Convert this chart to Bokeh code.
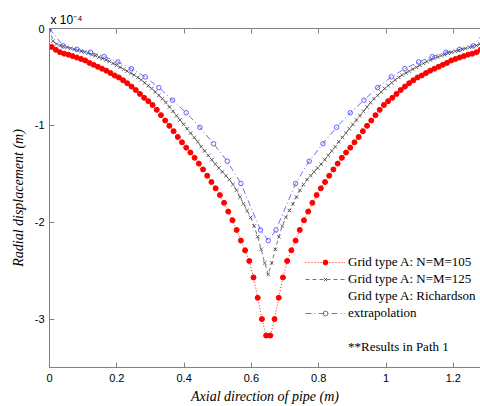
import numpy as np
from bokeh.plotting import figure
from bokeh.models import Range1d, LinearAxis, FixedTicker, Legend, LegendItem, Title
from bokeh.embed import file_html
from bokeh.resources import INLINE

# Radial displacement in units of 1e-4 m
# Grid type A: N=M=105 (cell-centred grid, 104 points)
red_y = [-0.19, -0.22, -0.245, -0.26, -0.27, -0.285, -0.30, -0.315, -0.33, -0.355,
         -0.375, -0.395, -0.415, -0.435, -0.46, -0.485, -0.505, -0.535, -0.565, -0.60,
         -0.635, -0.675, -0.715, -0.75, -0.79, -0.84, -0.895, -0.95, -1.005, -1.06,
         -1.12, -1.175, -1.23, -1.28, -1.335, -1.395, -1.455, -1.52, -1.585, -1.65,
         -1.72, -1.80, -1.89, -1.98, -2.08, -2.19, -2.29, -2.40, -2.57, -2.78,
         -3.00, -3.17,
         -3.17, -3.00,
         -2.78, -2.57, -2.40, -2.29, -2.19, -2.08, -1.98, -1.89, -1.80, -1.72,
         -1.65, -1.585, -1.52, -1.455, -1.395, -1.335, -1.28, -1.23, -1.175, -1.12,
         -1.06, -1.005, -0.95, -0.895, -0.84, -0.79, -0.75, -0.715, -0.675, -0.635,
         -0.60, -0.565, -0.535, -0.505, -0.485, -0.46, -0.435, -0.415, -0.395, -0.375,
         -0.355, -0.33, -0.315, -0.30, -0.285, -0.27, -0.26, -0.245, -0.22, -0.19]

# Grid type A: N=M=125 (125 nodes)
black_y = [0.0, -0.13, -0.16, -0.175, -0.185, -0.195, -0.205, -0.215, -0.225, -0.235,
           -0.245, -0.255, -0.27, -0.28, -0.295, -0.31, -0.325, -0.34, -0.36, -0.38,
           -0.40, -0.42, -0.44, -0.46, -0.48, -0.505, -0.53, -0.56, -0.59, -0.62,
           -0.655, -0.69, -0.725, -0.765, -0.81, -0.855, -0.90, -0.945, -0.99, -1.035,
           -1.08, -1.125, -1.17, -1.22, -1.265, -1.31, -1.355, -1.40, -1.44, -1.48,
           -1.52, -1.56, -1.61, -1.67, -1.74, -1.81, -1.88, -1.95, -2.04, -2.15,
           -2.28, -2.42, -2.54,
           -2.42, -2.28, -2.15, -2.04, -1.95, -1.88, -1.81, -1.74, -1.67, -1.61,
           -1.56, -1.52, -1.48, -1.44, -1.40, -1.355, -1.31, -1.265, -1.22, -1.17,
           -1.125, -1.08, -1.035, -0.99, -0.945, -0.90, -0.855, -0.81, -0.765, -0.725,
           -0.69, -0.655, -0.62, -0.59, -0.56, -0.53, -0.505, -0.48, -0.46, -0.44,
           -0.42, -0.40, -0.38, -0.36, -0.34, -0.325, -0.31, -0.295, -0.28, -0.27,
           -0.255, -0.245, -0.235, -0.225, -0.215, -0.205, -0.195, -0.185, -0.175, -0.16,
           -0.13, 0.0]

# Grid type A: Richardson extrapolation
blue_x = [0.0, 0.040625, 0.08125, 0.121875, 0.1625, 0.203125, 0.24375, 0.284375,
          0.325, 0.365625, 0.40625, 0.446875, 0.4875, 0.528125, 0.56875, 0.627, 0.65,
          0.673, 0.73125, 0.771875, 0.8125, 0.853125, 0.89375, 0.934375, 0.975,
          1.015625, 1.05625, 1.096875, 1.1375, 1.178125, 1.21875, 1.259375, 1.3]
blue_y = [0.0, -0.18, -0.215, -0.245, -0.29, -0.345, -0.415, -0.50,
          -0.61, -0.74, -0.87, -1.02, -1.19, -1.37, -1.60, -2.08, -2.19,
          -2.08, -1.60, -1.37, -1.19, -1.02, -0.87, -0.74, -0.61,
          -0.50, -0.415, -0.345, -0.29, -0.245, -0.215, -0.18, 0.0]

x_ticks = [0, 0.2, 0.4, 0.6, 0.8, 1, 1.2]
x_tick_labels = ["0", "0.2", "0.4", "0.6", "0.8", "1", "1.2"]
y_ticks = [-3, -2, -1, 0]
y_tick_labels = ["-3", "-2", "-1", "0"]

red_x = [0.00625 + 0.0125 * k for k in range(len(red_y))]
black_x = [1.3 * j / 124 for j in range(len(black_y))]

p = figure(width=480, height=406, output_backend="svg", toolbar_location=None,
           x_range=Range1d(0, 1.2808), y_range=Range1d(-3.5, 0),
           min_border_left=49, min_border_right=0, min_border_top=28, min_border_bottom=37,
           background_fill_color="white", border_fill_color="white")
p.outline_line_color = None
p.grid.visible = False

AX = "#808080"
for ax in (p.xaxis[0], p.yaxis[0]):
    ax.axis_line_color = AX
    ax.major_tick_line_color = AX
    ax.major_tick_in = 5
    ax.major_tick_out = 0
    ax.minor_tick_line_color = None
    ax.major_label_text_font = "Liberation Sans"
    ax.major_label_text_font_size = "11px"
    ax.major_label_text_color = "black"
    ax.axis_label_text_font = "Liberation Serif"
    ax.axis_label_text_font_style = "italic"
    ax.axis_label_text_font_size = "14px"
    ax.axis_label_text_color = "black"

p.xaxis.ticker = FixedTicker(ticks=x_ticks)
p.xaxis.major_label_overrides = dict(zip(x_ticks, x_tick_labels))
p.xaxis.major_label_standoff = 6
p.xaxis.axis_label = "Axial direction of pipe (m)"
p.xaxis.axis_label_standoff = 4

p.yaxis.ticker = FixedTicker(ticks=y_ticks)
p.yaxis.major_label_overrides = dict(zip(y_ticks, y_tick_labels))
p.yaxis.major_label_standoff = 5
p.yaxis.axis_label = "Radial displacement (m)"
p.yaxis.axis_label_standoff = 6

top = LinearAxis(ticker=FixedTicker(ticks=x_ticks), axis_line_color=AX,
                 major_tick_line_color=AX, major_tick_in=5, major_tick_out=0,
                 minor_tick_line_color=None,
                 major_label_overrides={t: "" for t in x_ticks},
                 major_label_standoff=0)
p.add_layout(top, "above")

# exponent note above the frame
p.add_layout(Title(text="x 10\u207b\u2074", align="left", offset=1, standoff=3,
                   text_font="Liberation Sans", text_font_size="12px",
                   text_font_style="normal", text_color="black"), "above")

# series
r1l = p.line(red_x, red_y, line_color="#ff2020", line_dash="1 2", line_width=1)
r1m = p.scatter(red_x, red_y, marker="circle", size=5, fill_color="#ff0000",
                line_color="#ff0000")
r2l = p.line(black_x, black_y, line_color="#505050", line_dash="4 3", line_width=0.8)
r2m = p.scatter(black_x, black_y, marker="x", size=5, line_color="#404040", line_width=0.8)
r3l = p.line(blue_x, blue_y, line_color="#5a5aff", line_dash="6 3 1 3", line_width=0.9)
r3m = p.scatter(blue_x, blue_y, marker="circle", size=4.5, fill_color=None,
                line_color="#5050ff", line_width=0.9)
dummy = p.line(x=[], y=[], line_alpha=0)

legend = Legend(items=[
    LegendItem(label="Grid type A: N=M=105", renderers=[r1l, r1m]),
    LegendItem(label="Grid type A: N=M=125", renderers=[r2l, r2m]),
    LegendItem(label="Grid type A: Richardson", renderers=[dummy]),
    LegendItem(label="extrapolation", renderers=[r3l, r3m]),
    LegendItem(label=" ", renderers=[dummy]),
    LegendItem(label="**Results in Path 1", renderers=[dummy]),
], location=(256, 12), border_line_color=None, background_fill_alpha=0,
    label_text_font="Liberation Serif", label_text_font_size="13px",
    label_text_color="black", glyph_width=40, glyph_height=12, label_height=17,
    spacing=0, padding=0, margin=0, label_standoff=3)
p.add_layout(legend)

open("out.html", "w").write(file_html(p, INLINE))
